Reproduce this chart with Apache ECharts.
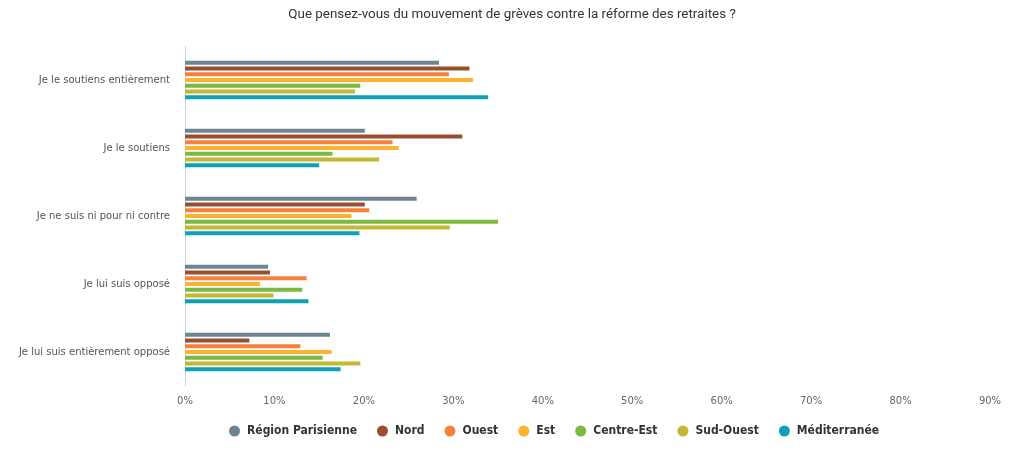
<!DOCTYPE html>
<html><head><meta charset="utf-8">
<script src="https://cdn.jsdelivr.net/npm/echarts@6/dist/echarts.min.js"></script>
<style>html,body{margin:0;padding:0;background:#fff}#c{width:1024px;height:467px}</style>
</head><body><div id="c"></div>
<script>
const categories = ["Je le soutiens entièrement","Je le soutiens","Je ne suis ni pour ni contre","Je lui suis opposé","Je lui suis entièrement opposé"];
const regions = ["Région Parisienne","Nord","Ouest","Est","Centre-Est","Sud-Ouest","Méditerranée"];
const regionParisienne = [28.4, 20.1, 25.9, 9.3, 16.2];
const nord = [31.8, 31.0, 20.1, 9.5, 7.2];
const ouest = [29.5, 23.2, 20.6, 13.6, 12.9];
const est = [32.2, 23.9, 18.6, 8.4, 16.4];
const centreEst = [19.6, 16.5, 35.0, 13.1, 15.4];
const sudOuest = [19.0, 21.7, 29.6, 9.9, 19.6];
const mediterranee = [33.9, 15.0, 19.5, 13.8, 17.4];
const xTicks = [0,10,20,30,40,50,60,70,80,90];

const seriesData = [regionParisienne, nord, ouest, est, centreEst, sudOuest, mediterranee];
const colors = ["#6c8591","#974f2f","#f7813a","#fcb12f","#7bb941","#c3b832","#0da1b1"];

const chart = echarts.init(document.getElementById('c'));
chart.setOption({
  animation:false,
  title:{text:"Que pensez-vous du mouvement de grèves contre la réforme des retraites ?",left:'center',top:3,
    textStyle:{fontFamily:'Roboto',fontSize:13.4,fontWeight:'normal',color:'#333'}},
  color:colors,
  grid:{left:185,right:34,top:46,bottom:81},
  legend:{bottom:25,left:224,icon:'circle',itemWidth:11,itemHeight:11,itemGap:20,
    textStyle:{fontFamily:'DejaVu Sans Condensed, DejaVu Sans',fontWeight:'bold',fontSize:12,color:'#333',padding:[0,0,0,2]},
    data:regions},
  xAxis:{type:'value',min:xTicks[0],max:xTicks[xTicks.length-1],interval:10,
    axisLine:{show:false},axisTick:{show:false},splitLine:{show:false},
    axisLabel:{formatter:v=>v+'%',color:'#666',fontFamily:'DejaVu Sans',fontSize:10,margin:10}},
  yAxis:{type:'category',data:categories,inverse:true,
    axisLine:{show:true,lineStyle:{color:'#ccd6eb'}},axisTick:{show:false},
    axisLabel:{color:'#555',fontFamily:'DejaVu Sans',fontSize:10,margin:15}},
  series:seriesData.map((d,i)=>({name:regions[i],type:'bar',data:d,barWidth:4,barGap:'44%'}))
});
</script></body></html>
